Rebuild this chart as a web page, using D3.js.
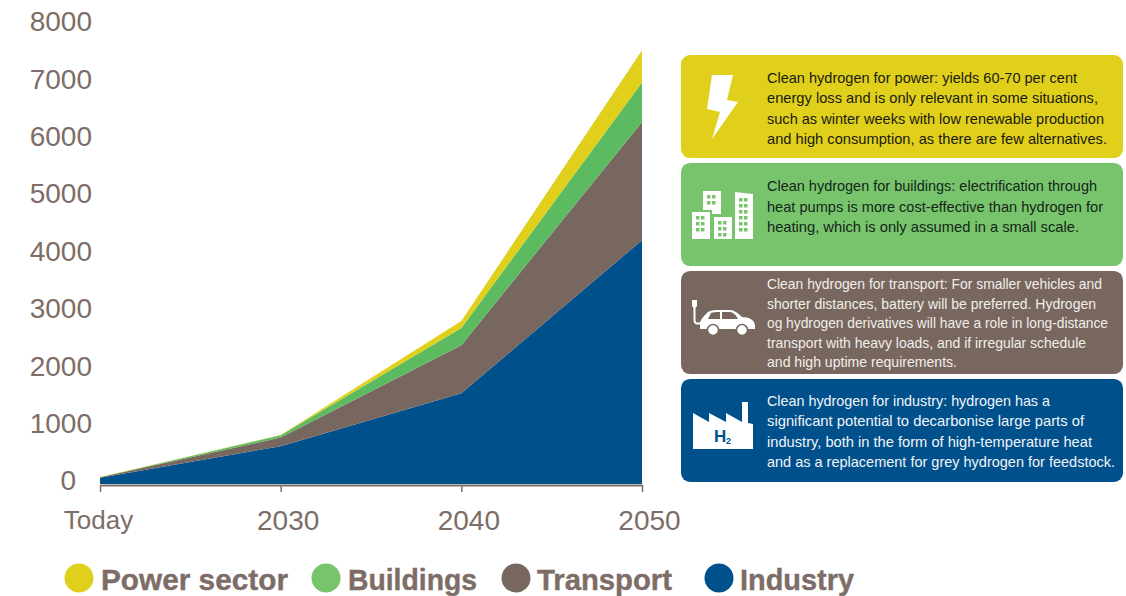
<!DOCTYPE html>
<html><head><meta charset="utf-8">
<script src="https://cdn.jsdelivr.net/npm/d3@7"></script>
<style>html,body{margin:0;padding:0;background:#fff;overflow:hidden}svg{display:block}text{font-family:"Liberation Sans",sans-serif}</style>
</head><body><svg id="c" width="1126" height="596"></svg>
<script>
const categories=["Today","2030","2040","2050"];
const industry=[110,660,1580,4250];
const transport=[6,150,840,2060];
const buildings=[3,38,300,690];
const power=[2,6,120,560];
const yTicks=[0,1000,2000,3000,4000,5000,6000,7000,8000];
const seriesNames=["Industry","Transport","Buildings","Power"];
const seriesValues=[industry,transport,buildings,power];
const seriesColors=["#00508c","#78675f","#5cbb60","#e0d01c"];
const legendNames=["Power sector","Buildings","Transport","Industry"];
const legendColors=["#e0d01c","#78c46c","#78675f","#00508c"];
const boxColors=["#e0d01c","#78c46c","#78675f","#00508c"];
const boxTextColors=["#1a1a10","#14261a","#f1eeea","#f1f4f8"];
const boxLines=[
["Clean hydrogen for power: yields 60-70 per cent","energy loss and is only relevant in some situations,","such as winter weeks with low renewable production","and high consumption, as there are few alternatives."],
["Clean hydrogen for buildings: electrification through","heat pumps is more cost-effective than hydrogen for","heating, which is only assumed in a small scale."],
["Clean hydrogen for transport: For smaller vehicles and","shorter distances, battery will be preferred. Hydrogen","og hydrogen derivatives will have a role in long-distance","transport with heavy loads, and if irregular schedule","and high uptime requirements."],
["Clean hydrogen for industry: hydrogen has a","significant potential to decarbonise large parts of","industry, both in the form of high-temperature heat","and as a replacement for grey hydrogen for feedstock."]];
const boxLineWidths=[[310,331,337,340],[330,336,312],[335,329,341,319,190],[283,317,325,348]];
const axisColor="#7d6d66";
const svg=d3.select("#c");
const x=d3.scalePoint().domain(categories).range([100,642]);
const y=d3.scaleLinear().domain([0,8000]).range([484,25]);
const rows=categories.map((c,i)=>{const r={c};seriesNames.forEach((n,k)=>r[n]=seriesValues[k][i]);return r;});
const stack=d3.stack().keys(seriesNames)(rows);
const area=d3.area().x(d=>x(d.data.c)).y0(d=>y(d[0])).y1(d=>y(d[1]));
svg.selectAll("path.a").data(stack).join("path").attr("class","a").attr("d",area).attr("fill",(d,i)=>seriesColors[i]);
// y labels
const ya=d3.axisLeft(y).tickValues(yTicks).tickSize(0).tickPadding(0).tickFormat(d3.format("d"));
const yg=svg.append("g").attr("transform","translate(92,-4)").call(ya);
yg.select(".domain").remove();
yg.selectAll("text").attr("font-size",28).attr("fill",axisColor).style("font-family",'"Liberation Sans",sans-serif').attr("dy","0.35em")
  .attr("x",d=>d===0?-16:0);
// x axis
const xa=d3.axisBottom(x).tickSize(7).tickPadding(15).tickSizeOuter(0);
const xg=svg.append("g").attr("transform","translate(0,485)").call(xa);
xg.select(".domain").attr("stroke",axisColor).attr("stroke-width",2);
xg.selectAll("line").attr("stroke",axisColor).attr("stroke-width",1.5);
xg.selectAll("text").attr("fill",axisColor).style("font-family",'"Liberation Sans",sans-serif')
  .attr("font-size",d=>d==="Today"?26:28).attr("x",d=>d==="Today"?-2:7).attr("y",d=>d==="Today"?26:25);
// boxes
const boxTop=d3.scaleBand().domain(d3.range(4)).range([55,482]).paddingInner(0.045).paddingOuter(0);
const textStart=[78,186,284,401];
const leading=[20.3,20.5,19.6,20.3];
const g=svg.selectAll("g.box").data(boxLines).join("g").attr("class","box");
g.append("rect").attr("x",681).attr("y",(d,i)=>boxTop(i)).attr("width",442).attr("height",boxTop.bandwidth()).attr("rx",9).attr("fill",(d,i)=>boxColors[i]);
g.each(function(lines,i){
  d3.select(this).selectAll("text").data(lines).join("text").attr("x",767)
   .attr("y",(d,k)=>textStart[i]+k*leading[i]).attr("dy","0.35em")
   .attr("font-size",14.5).attr("fill",boxTextColors[i])
   .attr("textLength",(d,k)=>boxLineWidths[i][k])
   .attr("lengthAdjust","spacingAndGlyphs").text(d=>d);
});
// icons
svg.append("path").attr("fill","#fff").attr("d","M712,75 L733,75 L727,100 L738,102 L712,139 L720,112 L707,109 Z");
const bld=svg.append("g").attr("fill","#fff");
bld.append("path").attr("d","M692,212 H710 V239 H692 Z M703,191 H721 V214 H712 V210 H703 Z M714,217 H732 V239 H714 Z M735,192 L753,194 V239 H735 Z");
const win=[];
[[696,216,3,2],[707,195,2,2],[718,221,3,2],[739,198,6,2]].forEach(([x0,y0,r,c])=>{for(let a=0;a<r;a++)for(let b=0;b<c;b++)win.push([x0+b*5,y0+a*6]);});
bld.selectAll("rect").data(win).join("rect").attr("x",d=>d[0]).attr("y",d=>d[1]).attr("width",3.5).attr("height",3.5).attr("fill","#78c46c");
const car=svg.append("g");
car.append("path").attr("fill","#fff").attr("d","M700,322 C702,318 704,316 706,314 C708,311 712,310 718,310 H730 C734,310 738,313 742,317 C749,317 755,320 755,326 V329 H700 Z");
car.append("path").attr("fill","#78675f").attr("d","M708,319 L711,313 C713,312 716,312 720,312 V319 Z M722,312 H730 C733,312 736,315 738,319 H722 Z");
car.selectAll("circle").data([713,742]).join("circle").attr("cx",d=>d).attr("cy",330).attr("r",5.5).attr("fill","#fff").attr("stroke","#78675f").attr("stroke-width",1.5);
car.append("path").attr("fill","none").attr("stroke","#fff").attr("stroke-width",2).attr("d","M694.5,306 V320 C694.5,324 697,324 701,323");
car.append("path").attr("fill","#fff").attr("d","M692,300 H697 V306 L695.5,308 H693.5 L692,306 Z");
svg.append("path").attr("fill","#fff").attr("d","M693,413 L709,422 V413 L726,422 V413 L742,422 V402 H748 V423 L753,424 V449 H693 Z");
svg.append("text").attr("x",714).attr("y",442).attr("font-size",17).attr("font-weight",700).attr("fill","#00508c").text("H");
svg.append("text").attr("x",726).attr("y",444).attr("font-size",9).attr("font-weight",700).attr("fill","#00508c").text("2");
// legend
const lx=[79,326,516,719], tx=[101,348,537,740], lw=[187,129,135,114];
const lg=svg.selectAll("g.lg").data(legendNames).join("g").attr("class","lg");
lg.append("circle").attr("cx",(d,i)=>lx[i]).attr("cy",578).attr("r",14.5).attr("fill",(d,i)=>legendColors[i]);
lg.append("text").attr("x",(d,i)=>tx[i]).attr("y",590).attr("font-size",29).attr("font-weight",700).attr("fill",axisColor)
  .attr("stroke",axisColor).attr("stroke-width",0.4)
  .attr("textLength",(d,i)=>lw[i]).attr("lengthAdjust","spacingAndGlyphs").text(d=>d);
</script></body></html>
